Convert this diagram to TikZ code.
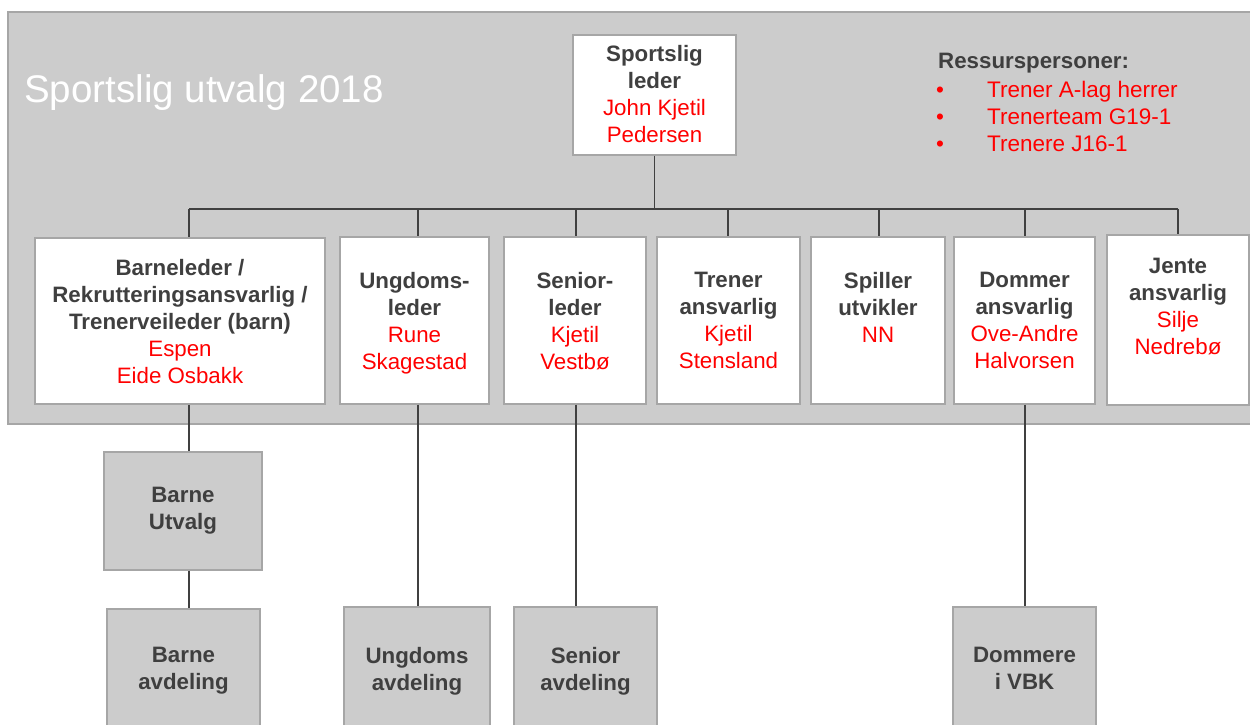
\documentclass[tikz,border=0pt]{standalone}
\usepackage{fontspec}
\setmainfont{Liberation Sans}
\usepackage{tikz}
\usepackage{xcolor}

\definecolor{bggray}{HTML}{CCCCCC}
\definecolor{edgegray}{HTML}{A6A6A6}
\definecolor{linegray}{HTML}{404040}
\definecolor{txtgray}{HTML}{3F3F3F}
\definecolor{namered}{HTML}{FF0000}
\newcommand{\nm}[1]{{\mdseries\color{namered}#1}}

\begin{document}
\begin{tikzpicture}[x=1pt,y=-1pt,
    rolebox/.style={draw=edgegray,fill=white,line width=1.3pt,inner sep=0pt},
    unitbox/.style={draw=edgegray,fill=bggray,line width=1.3pt,inner sep=0pt,
      align=center,font=\fontsize{22.3}{27}\selectfont\bfseries,text=txtgray},
    lbl/.style={align=center,inner sep=0pt,font=\fontsize{22.3}{27}\selectfont\bfseries,text=txtgray},
    conn/.style={draw=linegray,line width=1.5pt}]
  \useasboundingbox (0,0) rectangle (1250,724);
  \clip (0,0) rectangle (1250,724);
  \fill[white] (0,0) rectangle (1250,724);
  \draw[edgegray,fill=bggray,line width=1.3pt] (8,12) rectangle (1265,424);
  \node[anchor=base west,inner sep=0pt,text=white,font=\fontsize{38.5}{42}\selectfont] (title) at (24,102) {Sportslig utvalg 2018};

  % resource people
  \node[lbl,anchor=base west] (res) at (938,68) {Ressurspersoner:};
  \foreach \i/\y/\t in {1/97/Trener A-lag herrer, 2/124/Trenerteam G19-1, 3/151/Trenere J16-1} {
    \node[inner sep=0pt,anchor=base west,text=namered,font=\fontsize{22.5}{27}\selectfont] (dot\i) at (936,\y) {•};
    \node[inner sep=0pt,anchor=base west,text=namered,font=\fontsize{22.5}{27}\selectfont] (res\i) at (987,\y) {\t};
  }

  % boxes
  \node[rolebox,minimum width=163,minimum height=120] (leder) at (654.5,95) {};
  \node[rolebox,minimum width=290,minimum height=166] (barn) at (180,321) {};
  \node[rolebox,minimum width=149,minimum height=167] (ungd) at (414.5,320.5) {};
  \node[rolebox,minimum width=142,minimum height=167] (senior) at (575,320.5) {};
  \node[rolebox,minimum width=143,minimum height=167] (trener) at (728.5,320.5) {};
  \node[rolebox,minimum width=134,minimum height=167] (spiller) at (878,320.5) {};
  \node[rolebox,minimum width=141,minimum height=167] (dommer) at (1024.5,320.5) {};
  \node[rolebox,minimum width=142,minimum height=170] (jente) at (1178,320) {};

  \node[lbl,anchor=north] (t-leder) at ([yshift=-11pt]leder.north) {Sportslig\\leder\\\nm{John Kjetil}\\\nm{Pedersen}};
  \node[lbl,anchor=north] (t-barn) at ([yshift=-22pt]barn.north) {Barneleder /\\Rekrutteringsansvarlig /\\Trenerveileder (barn)\\\nm{Espen}\\\nm{Eide Osbakk}};
  \node[lbl,anchor=north] (t-ungd) at ([yshift=-36pt]ungd.north) {Ungdoms-\\leder\\\nm{Rune}\\\nm{Skagestad}};
  \node[lbl,anchor=north] (t-senior) at ([yshift=-36pt]senior.north) {Senior-\\leder\\\nm{Kjetil}\\\nm{Vestbø}};
  \node[lbl,anchor=north] (t-trener) at ([yshift=-36pt]trener.north) {Trener\\ansvarlig\\\nm{Kjetil}\\\nm{Stensland}};
  \node[lbl,anchor=north] (t-spiller) at ([yshift=-36pt]spiller.north) {Spiller\\utvikler\\\nm{NN}};
  \node[lbl,anchor=north] (t-dommer) at ([yshift=-36pt]dommer.north) {Dommer\\ansvarlig\\\nm{Ove-Andre}\\\nm{Halvorsen}};
  \node[lbl,anchor=north] (t-jente) at ([yshift=-24pt]jente.north) {Jente\\ansvarlig\\\nm{Silje}\\\nm{Nedrebø}};

  \node[unitbox,minimum width=158,minimum height=118] (butv) at (183,511) {Barne\\Utvalg};
  \node[unitbox,minimum width=153,minimum height=124] (bavd) at (183.5,671) {Barne\\avdeling};
  \node[unitbox,minimum width=146,minimum height=128] (uavd) at (417,671) {Ungdoms\\avdeling};
  \node[unitbox,minimum width=143,minimum height=128] (savd) at (585.5,671) {Senior\\avdeling};
  \node[unitbox,minimum width=143,minimum height=122] (domv) at (1024.5,668) {Dommere\\i VBK};

  % connectors
  \coordinate (busL) at (189,209);
  \coordinate (busR) at (1178,209);
  \draw[conn] (leder.south) -- (leder.south |- busL);
  \draw[conn] (busL) -- (busR);
  \foreach \n/\x in {barn/189, ungd/418, senior/576, trener/728, spiller/879, dommer/1025, jente/1178} {
    \coordinate (b-\n) at (\x,209);
    \draw[conn] (b-\n) -- (b-\n |- \n.north);
  }
  \draw[conn] (barn.south -| b-barn) -- (butv.north -| b-barn);
  \draw[conn] (butv.south -| b-barn) -- (bavd.north -| b-barn);
  \draw[conn] (ungd.south -| b-ungd) -- (uavd.north -| b-ungd);
  \draw[conn] (senior.south -| b-senior) -- (savd.north -| b-senior);
  \draw[conn] (dommer.south -| b-dommer) -- (domv.north -| b-dommer);
\end{tikzpicture}
\end{document}
